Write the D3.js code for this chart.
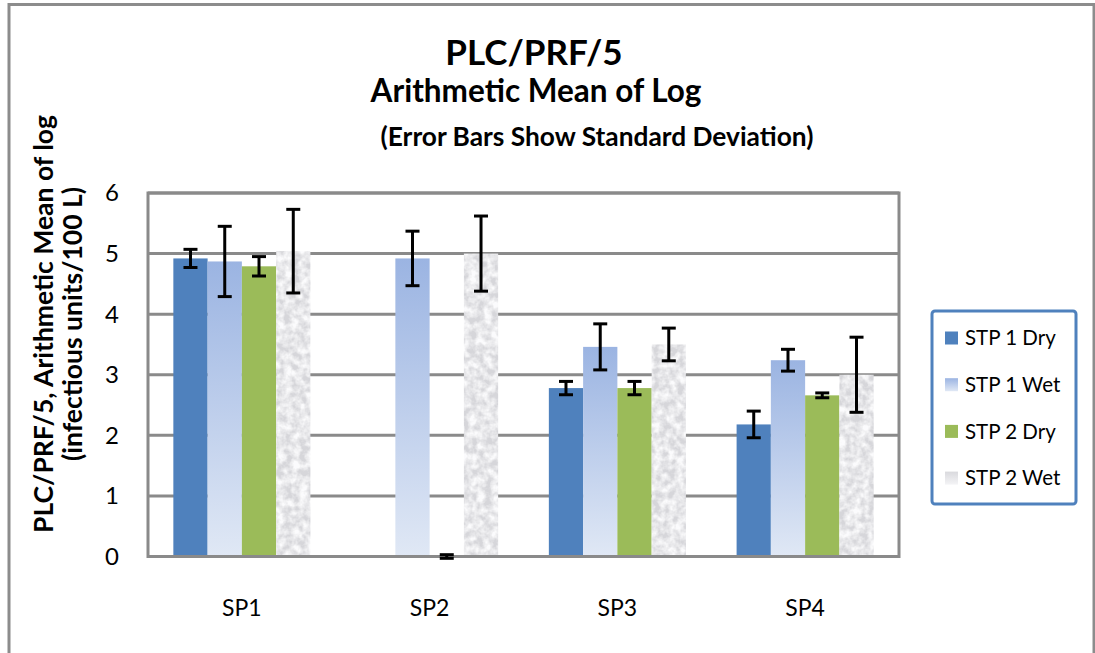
<!DOCTYPE html>
<html>
<head>
<meta charset="utf-8">
<script src="https://cdn.jsdelivr.net/npm/d3@7"></script>
<style>
  body { margin: 0; background: #fff; }
  text { font-family: Lato, "Open Sans", sans-serif; fill: #000; }
</style>
</head>
<body>
<div id="chart"></div>
<script>
// data
const categories = ["SP1", "SP2", "SP3", "SP4"];
const seriesNames = ["STP 1 Dry", "STP 1 Wet", "STP 2 Dry", "STP 2 Wet"];
const stp1Dry = [4.92, null, 2.78, 2.18];
const stp1Wet = [4.87, 4.92, 3.46, 3.24];
const stp2Dry = [4.79, 0, 2.78, 2.66];
const stp2Wet = [5.04, 5.0, 3.5, 3.0];
const stp1DrySd = [0.15, null, 0.11, 0.22];
const stp1WetSd = [0.58, 0.45, 0.38, 0.18];
const stp2DrySd = [0.16, 0.03, 0.11, 0.04];
const stp2WetSd = [0.69, 0.62, 0.27, 0.62];
const yTicks = [0, 1, 2, 3, 4, 5, 6];

const W = 1095, H = 653;
const plot = {left: 148, top: 193, right: 899, bottom: 556.5};

const svg = d3.select("#chart").append("svg")
    .attr("width", W).attr("height", H);

const defs = svg.append("defs");
// light blue gradient for the wet bars
const gWet = defs.append("linearGradient").attr("id", "wetGrad")
    .attr("x1", 0).attr("y1", 0).attr("x2", 0).attr("y2", 1);
gWet.append("stop").attr("offset", "0%").attr("stop-color", "#9bb4e2");
gWet.append("stop").attr("offset", "100%").attr("stop-color", "#e0e8f5");
const gGray = defs.append("linearGradient").attr("id", "grayGrad")
    .attr("x1", 0).attr("y1", 0).attr("x2", 0).attr("y2", 1);
gGray.append("stop").attr("offset", "0%").attr("stop-color", "#d9d9dd");
gGray.append("stop").attr("offset", "100%").attr("stop-color", "#f4f4f6");

// mottled texture for STP 2 Wet
const tex = defs.append("filter").attr("id", "tex")
    .attr("x", 0).attr("y", 0).attr("width", 1).attr("height", 1);
tex.append("feTurbulence").attr("type", "fractalNoise")
    .attr("baseFrequency", 0.13).attr("numOctaves", 3).attr("seed", 4).attr("result", "n");
tex.append("feColorMatrix").attr("in", "n").attr("type", "matrix")
    .attr("values", "0 0 0 0 0.97  0 0 0 0 0.97  0 0 0 0 0.98  0 0 0 -2.2 1.55")
    .attr("result", "w");
tex.append("feComposite").attr("in", "w").attr("in2", "SourceGraphic")
    .attr("operator", "atop");

const fills = ["#4f81bd", "url(#wetGrad)", "#9bbb59", "#d6d6da"];
const legendFills = ["#4f81bd", "url(#wetGrad)", "#9bbb59", "url(#grayGrad)"];

// outer chart border
svg.append("rect")
    .attr("x", 9).attr("y", 4.5).attr("width", 1085).attr("height", 700)
    .attr("fill", "none").attr("stroke", "#8c8c8c").attr("stroke-width", 3);

// titles
svg.append("text").attr("x", 534).attr("y", 65)
    .attr("text-anchor", "middle").style("font-weight", "bold").style("font-size", "35px")
    .text("PLC/PRF/5");
svg.append("text").attr("x", 536).attr("y", 102)
    .attr("text-anchor", "middle").style("font-weight", "bold").style("font-size", "31.5px")
    .text("Arithmetic Mean of Log");
svg.append("text").attr("x", 597).attr("y", 146)
    .attr("text-anchor", "middle").style("font-weight", "bold").style("font-size", "26.3px")
    .text("(Error Bars Show Standard Deviation)");

// scales
const x0 = d3.scaleBand().domain(categories)
    .range([plot.left, plot.right]).paddingInner(0.27).paddingOuter(0.135);
const x1 = d3.scaleBand().domain(seriesNames).range([0, x0.bandwidth()]);
const y = d3.scaleLinear().domain([0, 6]).range([plot.bottom, plot.top]);

// gridlines
svg.append("g").selectAll("line").data(yTicks.slice(1)).enter().append("line")
    .attr("x1", plot.left).attr("x2", plot.right)
    .attr("y1", d => y(d)).attr("y2", d => y(d))
    .attr("stroke", "#8a8a8a").attr("stroke-width", 3);

// y axis labels
svg.append("g").selectAll("text").data(yTicks).enter().append("text")
    .attr("x", 119).attr("y", d => y(d)).attr("dy", "0.35em")
    .attr("text-anchor", "end").style("font-size", "24px")
    .text(d => d);

// y axis title
const yt = svg.append("text")
    .attr("transform", "translate(0,324) rotate(-90)")
    .attr("text-anchor", "middle").style("font-weight", "bold").style("font-size", "26.5px");
yt.append("tspan").attr("x", 0).attr("y", 53).text("PLC/PRF/5, Arithmetic Mean of log");
yt.append("tspan").attr("x", 0).attr("y", 82).text("(infectious units/100 L)");

// bars
const series = [stp1Dry, stp1Wet, stp2Dry, stp2Wet];
const sds = [stp1DrySd, stp1WetSd, stp2DrySd, stp2WetSd];
const rows = [];
series.forEach((vals, si) => {
    vals.forEach((v, ci) => {
        if (v !== null) rows.push({s: si, c: ci, value: v, sd: sds[si][ci]});
    });
});

svg.append("g").selectAll("rect").data(rows).enter().append("rect")
    .attr("x", d => x0(categories[d.c]) + x1(seriesNames[d.s]))
    .attr("y", d => y(d.value))
    .attr("width", x1.bandwidth())
    .attr("height", d => y(0) - y(d.value))
    .attr("fill", d => fills[d.s])
    .attr("filter", d => d.s === 3 ? "url(#tex)" : null);

// plot area frame
svg.append("rect")
    .attr("x", plot.left).attr("y", plot.top)
    .attr("width", plot.right - plot.left).attr("height", plot.bottom - plot.top)
    .attr("fill", "none").attr("stroke", "#8a8a8a").attr("stroke-width", 3);

// error bars
const cap = 7;
const eb = svg.append("g").attr("stroke", "#000").attr("stroke-width", 3);
rows.forEach(d => {
    const cx = x0(categories[d.c]) + x1(seriesNames[d.s]) + x1.bandwidth() / 2;
    const hi = y(d.value + d.sd), lo = y(d.value - d.sd);
    eb.append("line").attr("x1", cx).attr("x2", cx).attr("y1", hi).attr("y2", lo);
    eb.append("line").attr("x1", cx - cap).attr("x2", cx + cap).attr("y1", hi).attr("y2", hi);
    eb.append("line").attr("x1", cx - cap).attr("x2", cx + cap).attr("y1", lo).attr("y2", lo);
});

// x labels
svg.append("g").selectAll("text").data(categories).enter().append("text")
    .attr("x", d => x0(d) + x0.bandwidth() / 2).attr("y", 608).attr("dy", "0.35em")
    .attr("text-anchor", "middle").style("font-size", "23px")
    .text(d => d);

// legend
const legend = svg.append("g");
legend.append("rect")
    .attr("x", 932).attr("y", 311).attr("width", 144).attr("height", 193)
    .attr("rx", 3).attr("fill", "#fff").attr("stroke", "#4f81bd").attr("stroke-width", 3);
const li = legend.selectAll("g.item").data(seriesNames).enter().append("g")
    .attr("class", "item")
    .attr("transform", (d, i) => "translate(945," + (338 + i * 46.7) + ")");
li.append("rect").attr("x", 0).attr("y", -6.5).attr("width", 13).attr("height", 13)
    .attr("fill", (d, i) => legendFills[i]);
li.append("text").attr("x", 20).attr("y", 0).attr("dy", "0.35em")
    .style("font-size", "20.5px").text(d => d);
</script>
</body>
</html>
